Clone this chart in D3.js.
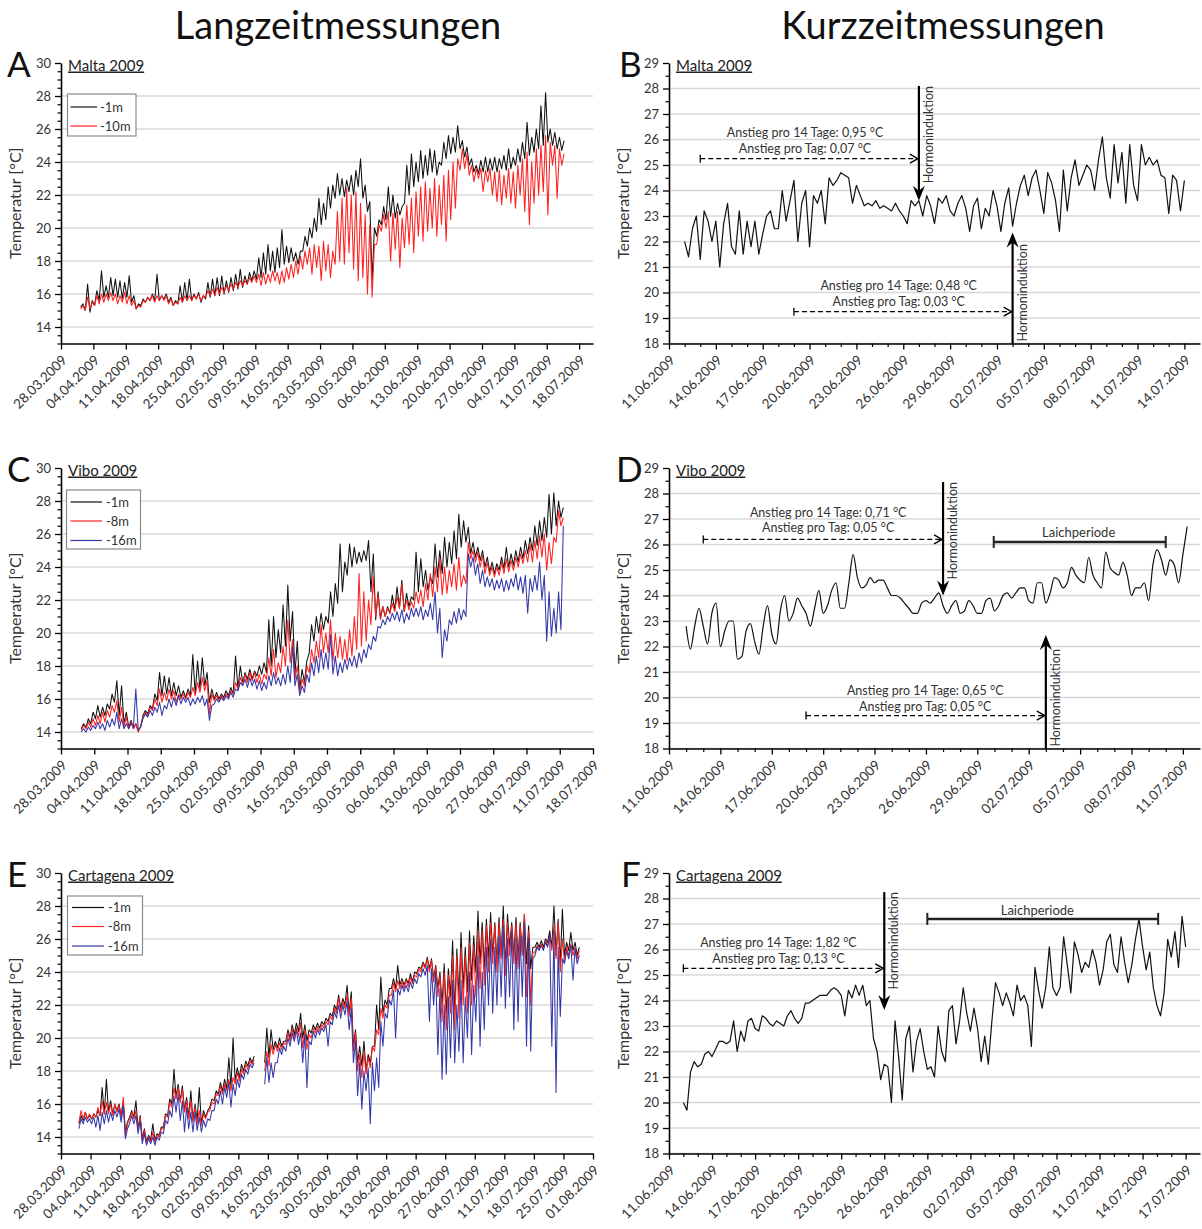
<!DOCTYPE html>
<html>
<head>
<meta charset="utf-8">
<script src="https://cdn.jsdelivr.net/npm/d3@7"></script>
<style>
  body { margin: 0; background: #fff; }
  svg { display: block; }
  text { font-family: Lato, "Open Sans", "DejaVu Sans", sans-serif; }
</style>
</head>
<body>
<svg id="chart" width="1202" height="1229"></svg>
<script>
// ---------------------------------------------------------------------------
// Long-term loggers: two readings per day (night low, afternoon high),
// starting 01.04.2009, 12-hour step. null = logger gap.
// ---------------------------------------------------------------------------
const maltaLong1m = [
  15.2,15.4, 15.0,16.6, 14.9,15.6, 15.3,16.2, 15.6,17.4, 15.8,16.5, 15.8,17.0, 15.9,16.9, 15.8,16.8, 15.7,16.7,
  15.8,17.1, 15.5,15.9, 15.1,15.4, 15.3,15.7, 15.5,15.8, 15.6,16.0, 15.6,17.2, 15.6,15.9, 15.7,16.0, 15.5,15.8,
  15.3,15.6, 15.4,16.5, 15.5,16.7, 15.6,16.9, 15.6,16.0, 15.7,16.1, 15.5,15.9, 15.7,16.7, 15.8,16.9, 15.9,17.0,
  15.9,17.1, 16.0,16.8, 16.1,17.0, 16.2,17.2, 16.3,17.5, 16.4,17.1, 16.6,17.3, 16.8,17.4, 16.9,18.2, 17.0,18.5,
  17.2,19.0, 17.4,18.6, 17.3,18.8, 17.6,19.9, 17.8,18.9, 17.9,18.8, 18.0,18.5, 17.8,18.6, 18.6,19.5, 18.9,20.0,
  19.4,20.6, 19.8,21.8, 20.2,21.5, 20.5,22.5, 21.2,22.6, 21.8,23.3, 22.0,23.0, 21.9,22.9, 22.2,23.2, 22.0,23.5,
  22.5,24.2,
  21.8,22.6, 21.0,21.6, 16.8,20.0, 19.5,20.5, 20.2,21.3, 20.5,22.5, 20.7,22.0, 20.6,21.5, 20.8,21.3, 21.5,23.8,
  22.0,24.5, 22.5,24.0, 22.8,24.7, 23.0,24.4, 23.2,24.8, 23.4,24.7, 23.2,24.0, 23.8,25.2, 24.2,25.6, 24.5,25.5,
  24.6,26.2, 24.8,25.3, 24.3,24.9, 23.8,24.2, 23.4,23.8, 23.3,24.1, 23.4,24.3, 23.4,24.2, 23.5,24.3, 23.4,24.2,
  23.6,24.4, 23.5,24.8, 23.6,24.3, 23.8,24.8, 24.0,25.2, 24.2,26.4, 24.4,25.5, 24.6,26.0, 24.8,27.4, 25.0,28.2,
  25.2,26.0, 25.0,25.8, 24.8,25.5, 24.7,25.3
];
const maltaLong10m = [
  15.1,15.3, 15.0,15.8, 15.1,15.5, 15.3,15.9, 15.4,16.0, 15.5,16.0, 15.6,16.1, 15.6,16.0, 15.4,15.9, 15.5,16.1,
  15.4,15.9, 15.3,15.6, 15.1,15.3, 15.2,15.6, 15.5,15.8, 15.6,15.9, 15.5,15.9, 15.6,15.9, 15.6,15.9, 15.4,15.7,
  15.3,15.5, 15.4,15.8, 15.5,15.9, 15.6,15.9, 15.6,15.9, 15.7,16.0, 15.6,15.9, 15.8,16.2, 15.9,16.3, 15.9,16.4,
  16.0,16.4, 16.1,16.5, 16.2,16.6, 16.3,16.7, 16.4,16.8, 16.5,16.8, 16.6,17.0, 16.7,17.1, 16.7,17.2, 16.5,17.3,
  16.6,17.2, 16.7,17.4, 16.8,17.3, 16.6,17.4, 16.7,17.6, 16.9,17.8, 17.0,18.0, 17.2,18.3, 17.5,18.6, 17.8,18.8,
  17.2,19.0, 17.6,18.9, 16.8,19.2, 17.4,19.0, 17.0,18.6, 17.8,21.0, 18.0,21.8, 17.8,22.4, 18.5,22.0, 17.5,22.2,
  16.8,21.5,
  17.0,20.8, 16.0,20.2, 15.8,19.0, 19.0,20.2, 19.8,20.8, 20.0,21.0, 18.0,20.9, 18.7,21.0, 17.6,20.6, 18.8,21.4,
  19.0,21.8, 18.5,22.2, 19.5,22.5, 19.2,22.8, 19.8,22.4, 20.0,23.0, 19.5,22.6, 20.2,23.2, 19.2,23.5, 20.5,24.0,
  21.2,24.2, 23.5,24.8, 23.6,24.5, 23.2,23.8, 22.8,23.6, 23.0,23.6, 22.2,23.5, 22.8,23.6, 22.0,23.4, 21.6,23.5,
  21.4,23.2, 21.8,23.6, 21.5,23.4, 21.2,23.8, 22.0,24.2, 21.0,24.6, 20.2,24.0, 21.5,24.8, 22.0,25.0, 22.2,25.6,
  20.8,25.2, 23.8,25.0, 21.8,24.8, 23.8,24.5
];

const viboLong1m = [
  14.2,14.5, 14.3,14.8, 14.5,15.2, 14.8,15.6, 14.9,15.5, 15.0,15.7, 15.4,16.3, 15.8,17.1, 15.0,16.8, 14.5,15.2,
  14.3,14.7, 14.2,14.5, 14.1,14.3, 15.0,15.3, 15.1,15.6, 15.4,16.3, 15.9,17.6, 16.2,17.4, 16.3,17.3, 16.2,17.0,
  16.2,16.8, 16.1,16.5, 16.1,16.6, 16.2,18.7, 16.3,18.3, 16.6,18.5, 16.8,17.6, 15.8,16.6, 16.0,16.4, 16.0,16.3,
  16.1,16.5, 16.2,16.7, 16.3,18.6, 16.6,18.0, 17.0,17.6, 17.2,17.8, 17.2,17.7, 17.4,18.0, 17.5,18.2, 17.6,20.8,
  18.0,21.0, 18.5,20.2, 18.8,21.7, 19.2,22.9, 19.5,21.3, 17.5,19.5, 16.5,17.8, 17.0,18.3, 18.8,20.5, 19.5,21.0,
  20.0,21.2, 20.2,21.0, 20.6,22.5, 21.0,23.0, 21.8,25.4, 22.5,24.3, 23.5,25.4, 24.0,25.2, 24.2,24.9, 24.3,25.0,
  24.4,25.6,
  22.5,24.8, 20.8,22.5, 20.9,21.6, 21.0,21.6, 21.2,22.3, 21.4,22.8, 21.5,23.2, 21.3,22.4, 21.6,22.2, 22.0,24.9,
  22.5,24.5, 22.8,23.8, 22.6,23.4, 23.0,25.4, 23.4,25.0, 23.6,25.8, 24.0,25.5, 24.2,26.2, 24.5,27.2, 25.2,26.8,
  25.5,26.4, 24.8,25.5, 24.6,25.2, 24.4,25.0, 24.0,24.6, 23.7,24.3, 23.6,24.2, 23.8,24.6, 23.9,25.2, 24.0,24.8,
  24.1,25.0, 24.3,25.2, 24.5,25.6, 24.8,25.8, 25.0,26.5, 25.3,26.8, 25.6,27.0, 25.8,28.4, 26.0,28.5, 26.5,28.0,
  27.0,27.6
];
const viboLong8m = [
  14.1,14.4, 14.2,14.6, 14.3,14.8, 14.4,15.0, 14.5,15.2, 14.6,15.3, 14.9,15.6, 15.2,15.9, 14.6,15.5, 14.3,14.9,
  14.2,14.6, 14.2,14.5, 14.0,14.3, 14.9,15.2, 15.0,15.5, 15.3,16.0, 15.6,16.6, 15.8,16.4, 15.9,16.6, 16.0,16.5,
  15.8,16.3, 16.0,16.3, 16.0,16.4, 16.1,16.7, 16.2,17.0, 16.4,17.3, 16.5,17.1, 15.1,16.3, 15.9,16.2, 15.9,16.2,
  16.0,16.3, 16.1,16.5, 16.3,17.0, 16.6,17.3, 16.9,17.5, 17.0,17.6, 17.1,17.6, 17.0,17.5, 16.9,17.5, 17.2,18.5,
  17.4,19.0, 17.3,18.2, 17.6,19.2, 18.0,20.8, 18.2,19.6, 17.2,18.0, 16.4,17.2, 16.8,18.0, 17.6,19.0, 18.2,19.5,
  18.5,20.5, 18.8,20.0, 18.8,20.8, 18.3,20.0, 18.5,19.8, 18.4,19.6, 18.3,20.2, 18.6,21.0, 19.0,23.6, 19.2,22.5,
  19.5,22.0,
  20.5,23.4, 21.0,22.3, 20.8,21.6, 21.0,21.5, 21.2,21.8, 21.3,22.2, 21.5,23.0, 21.3,22.0, 21.4,21.9, 21.5,22.5,
  21.8,22.6, 21.6,23.0, 22.0,23.6, 22.2,24.0, 22.5,24.5, 22.3,24.0, 22.4,23.8, 22.8,24.2, 22.6,24.6, 22.8,23.5,
  23.0,25.5, 24.5,25.0, 24.3,24.9, 24.0,24.7, 23.6,24.3, 23.5,24.0, 23.4,24.0, 23.5,24.3, 23.6,24.5, 23.7,24.4,
  23.8,24.6, 24.0,24.8, 24.2,25.0, 24.3,25.4, 24.3,25.6, 24.5,25.9, 24.6,26.0, 23.8,25.5, 24.2,25.8, 25.5,27.4,
  26.5,27.0
];
const viboLong16m = [
  14.0,14.2, 14.0,14.3, 14.1,14.4, 14.2,14.6, 14.2,14.5, 14.1,14.7, 14.3,14.8, 14.4,15.2, 14.2,14.8, 14.2,14.5,
  14.2,14.5, 14.3,16.6, 14.1,14.3, 14.8,15.1, 14.9,15.3, 15.0,15.5, 15.2,15.8, 15.0,15.6, 15.4,16.0, 15.5,16.1,
  15.6,16.2, 15.7,16.1, 15.8,16.1, 15.6,16.0, 15.7,16.1, 15.8,16.2, 15.6,16.0, 14.7,15.6, 15.7,16.0, 15.8,16.1,
  15.9,16.2, 16.0,16.4, 16.1,16.6, 16.5,17.0, 16.8,17.2, 16.7,17.3, 16.8,17.2, 16.6,17.1, 16.5,17.0, 16.6,17.4,
  16.8,17.6, 16.9,17.3, 16.8,17.5, 16.9,18.0, 17.0,19.2, 16.8,17.5, 16.2,16.8, 16.4,17.5, 17.0,18.2, 17.4,18.6,
  17.6,19.0, 17.8,18.8, 17.8,19.9, 17.5,18.6, 17.4,18.2, 17.6,18.4, 17.8,18.5, 18.0,18.6, 17.9,18.8, 18.2,19.0,
  18.5,19.3,
  19.0,19.8, 19.5,20.4, 20.3,20.8, 20.5,21.0, 20.7,21.2, 20.8,21.3, 20.7,21.4, 20.6,21.2, 20.8,21.5, 21.0,21.5,
  21.0,21.6, 20.8,21.4, 21.0,21.8, 20.8,22.5, 20.0,21.5, 18.5,20.2, 19.5,20.8, 20.5,21.3, 20.6,21.5, 20.8,21.4,
  21.0,24.8, 24.0,24.6, 23.5,24.2, 23.0,23.8, 22.8,23.4, 22.8,23.3, 22.6,23.2, 22.7,23.3, 22.5,23.2, 22.6,23.3,
  22.8,23.6, 22.6,23.4, 22.4,23.5, 21.2,23.3, 22.5,23.5, 22.6,24.3, 22.0,23.5, 19.5,22.5, 19.8,21.5, 20.0,22.5,
  20.2,26.5
];

const cartagenaLong1m = [
  14.8,15.3, 15.0,15.5, 15.1,15.3, 15.1,15.4, 15.2,15.6, 15.3,17.0, 15.4,17.5, 15.5,16.2, 15.4,16.0, 15.6,16.0,
  15.3,16.1, 14.3,14.9, 15.2,15.6, 15.2,16.2, 14.5,15.3, 13.9,14.5, 13.7,14.1, 13.8,14.8, 13.8,14.2, 14.1,14.6,
  14.6,15.4, 15.3,16.3, 16.0,18.1, 16.4,17.2, 16.2,17.1, 15.6,16.4, 15.2,16.8, 15.0,16.0, 15.0,17.0, 14.8,15.6,
  15.2,15.6, 15.8,16.3, 16.2,16.8, 16.6,17.3, 16.8,17.5, 16.9,18.8, 17.0,20.0, 17.4,18.2, 17.6,18.4, 18.0,18.6,
  18.3,18.8, 18.5,18.9, null,null, null,null, 18.5,20.6, 18.8,20.5, 19.3,19.8, 19.4,20.0, 19.5,19.8, 19.8,20.5,
  20.0,20.8, 20.2,20.9, 20.4,21.5, 20.0,20.8, 19.8,20.5, 20.3,20.8, 20.5,20.9, 20.6,21.0, 20.8,21.2, 21.0,21.5,
  21.3,22.0,
  21.7,22.6, 21.8,22.4, 22.0,23.2, 21.5,22.8, 19.5,20.5, 18.5,19.5, 18.3,19.8, 18.0,19.0, 18.5,19.5, 19.5,22.0,
  20.5,23.7, 21.5,22.3, 22.0,23.0, 23.0,23.6, 23.0,24.4, 23.2,23.6, 23.2,23.6, 23.3,23.9, 23.4,24.0, 23.9,24.3,
  24.2,24.6, 24.3,24.9, 24.2,24.8, 23.6,24.4, 23.0,24.0, 22.0,24.5, 21.5,24.2, 22.5,25.9, 21.5,25.4, 22.5,26.4,
  23.0,25.5, 22.8,26.5, 23.5,26.2, 24.0,27.7, 24.5,27.0, 24.2,27.2, 24.8,27.6, 25.0,27.0, 24.5,27.3, 25.0,28.0,
  24.2,27.5, 25.5,27.0, 25.0,27.3, 24.8,27.0, 25.2,27.5, 24.5,26.8, 24.2,25.5, 25.5,25.8, 25.5,25.9, 25.5,26.0,
  25.8,26.5, 25.5,28.0, 25.0,27.2, 24.5,27.8, 25.0,25.8, 25.3,26.4, 25.3,25.8, 25.0,25.5
];
const cartagenaLong8m = [
  14.9,15.6, 15.1,15.5, 15.1,15.4, 15.1,15.4, 15.2,15.8, 15.3,16.2, 15.4,16.1, 15.4,16.0, 15.3,16.0, 15.5,15.9,
  15.2,16.4, 14.1,14.8, 15.1,15.5, 15.1,15.6, 14.4,15.2, 13.8,14.4, 13.6,14.0, 13.7,14.3, 13.7,14.1, 14.0,14.5,
  14.5,15.3, 15.2,16.1, 15.8,17.0, 16.3,17.0, 16.1,16.9, 15.5,16.2, 15.1,16.2, 14.9,15.8, 14.8,15.6, 14.7,15.4,
  15.1,15.5, 15.6,16.1, 16.0,16.6, 16.5,17.1, 16.6,17.2, 16.8,17.5, 16.8,17.6, 17.2,17.9, 17.4,18.1, 17.8,18.4,
  18.1,18.6, 18.4,18.7, null,null, null,null, 18.0,19.2, 18.3,19.6, 19.0,19.6, 19.2,19.7, 19.3,19.7, 19.6,20.3,
  19.8,20.6, 19.9,20.6, 20.1,20.9, 19.4,20.5, 19.3,20.2, 20.0,20.6, 20.3,20.7, 20.4,20.8, 20.6,21.0, 20.8,21.3,
  21.1,21.8,
  21.5,22.4, 21.6,22.2, 21.8,22.6, 21.3,22.4, 19.2,20.3, 18.0,19.0, 17.6,19.2, 17.8,18.8, 18.2,19.5, 19.2,20.5,
  20.2,21.8, 21.2,22.0, 21.8,22.6, 22.6,23.3, 22.8,23.5, 23.0,23.4, 23.0,23.5, 23.1,23.7, 23.3,23.8, 23.7,24.2,
  24.0,24.5, 24.2,24.8, 24.0,24.7, 23.4,24.3, 22.5,23.8, 21.0,24.0, 20.5,23.8, 21.5,25.0, 20.5,25.0, 21.2,25.5,
  22.0,25.0, 21.5,25.8, 22.0,25.6, 22.5,26.5, 23.0,26.5, 23.2,26.8, 24.0,27.0, 24.5,26.8, 24.0,27.0, 24.8,27.2,
  23.8,27.0, 25.0,26.8, 24.5,27.0, 24.2,26.8, 25.0,27.5, 22.5,26.5, 22.0,25.2, 25.2,25.6, 25.4,25.7, 25.4,25.9,
  25.6,26.2, 25.3,26.8, 24.8,27.0, 24.0,26.0, 24.6,25.5, 25.0,25.7, 25.0,25.5, 24.8,25.3
];
const cartagenaLong16m = [
  14.5,15.1, 14.8,15.2, 14.9,15.1, 14.8,15.2, 14.6,15.3, 14.4,15.5, 14.8,15.6, 14.9,15.5, 15.0,15.6, 15.2,15.7,
  14.9,15.9, 13.9,14.5, 14.8,15.3, 14.8,15.3, 14.2,15.0, 13.6,14.2, 13.5,13.9, 13.6,14.0, 13.5,14.0, 13.8,14.3,
  14.2,15.0, 14.8,15.6, 15.2,16.5, 15.5,16.6, 15.0,16.2, 14.3,15.8, 14.5,15.5, 14.3,15.5, 14.4,15.2, 14.3,15.0,
  14.6,15.1, 15.0,15.6, 15.6,16.3, 16.0,16.8, 16.0,17.0, 16.4,17.3, 15.8,17.2, 16.5,17.5, 17.0,17.8, 17.5,18.1,
  17.8,18.4, 18.2,18.5, null,null, null,null, 17.2,18.8, 17.3,18.5, 17.6,18.5, 18.5,19.4, 19.0,19.5, 19.2,20.0,
  19.5,20.3, 19.8,20.5, 19.6,20.3, 18.5,20.2, 17.0,19.8, 19.6,20.4, 20.0,20.5, 20.2,20.6, 20.4,20.8, 19.5,21.0,
  20.8,21.6,
  21.2,22.0, 21.2,22.0, 21.4,22.2, 20.5,21.8, 18.5,19.8, 16.5,18.5, 15.7,18.0, 16.8,18.2, 14.8,18.5, 16.8,18.8,
  17.0,21.0, 19.5,21.5, 21.2,22.3, 22.0,22.9, 20.0,23.0, 22.6,23.2, 22.8,23.2, 22.8,23.4, 23.0,23.6, 23.3,23.9,
  23.7,24.2, 23.8,24.4, 21.0,24.2, 22.0,24.0, 19.0,23.0, 17.5,22.0, 17.8,22.5, 18.8,23.5, 18.5,22.0, 19.2,23.5,
  18.5,22.5, 20.0,24.0, 19.0,23.2, 21.0,25.0, 19.5,24.0, 20.5,25.5, 22.0,26.0, 21.5,25.5, 22.0,26.2, 22.5,26.8,
  21.8,26.0, 22.5,26.5, 20.5,26.0, 21.0,26.2, 22.5,27.0, 19.5,26.0, 19.2,24.8, 25.0,25.5, 25.3,25.6, 25.3,25.8,
  25.5,26.2, 19.5,26.5, 16.7,25.5, 21.3,24.8, 24.5,25.3, 24.8,25.6, 23.5,25.4, 24.5,25.0
];

// ---------------------------------------------------------------------------
// Short-term records (-1m), 6-hour step starting 12.06.2009 00:00
// ---------------------------------------------------------------------------
const maltaShort = [
  22.0,21.4,22.5,23.0,21.3,23.2,22.8,22.0,22.8,21.0,22.7,23.5,21.8,21.5,23.2,21.5,22.8,21.8,22.8,21.5,
  22.3,23.0,23.2,22.5,22.5,24.0,22.8,23.6,24.4,22.0,23.5,24.0,21.8,23.8,23.5,24.0,22.7,24.5,24.2,24.4,
  24.7,24.6,24.5,23.5,24.2,23.8,23.4,23.5,23.4,23.6,23.3,23.4,23.3,23.2,23.5,23.2,23.0,22.7,23.6,23.4,
  23.6,23.0,23.8,23.4,22.7,23.7,23.5,23.8,23.2,23.0,23.5,23.8,23.3,22.4,23.4,23.7,22.5,23.3,23.0,24.0,
  23.4,22.4,23.5,24.1,22.6,23.5,24.2,24.6,23.8,24.5,24.8,24.0,23.1,24.7,24.3,23.6,22.4,24.8,23.2,24.5,
  25.2,24.2,24.6,25.0,24.8,24.0,25.2,26.1,24.5,23.7,25.8,24.3,25.5,23.5,25.8,24.2,23.6,25.8,25.0,25.3,
  25.0,25.2,24.6,24.5,23.1,24.6,24.4,23.2,24.4
];
const viboShort = [
  22.8,21.9,22.8,23.5,22.8,22.1,23.3,23.7,22.0,22.6,23.0,23.0,21.5,21.6,22.6,22.9,22.2,21.7,22.8,23.6,
  22.5,22.1,23.4,24.0,23.0,23.3,23.9,23.6,23.3,22.8,23.5,24.2,23.3,23.6,24.2,24.5,23.5,23.5,24.5,25.6,
  24.7,24.3,24.4,24.7,24.5,24.6,24.6,24.3,24.0,24.0,23.9,23.7,23.5,23.3,23.3,23.7,23.8,23.7,23.9,24.1,
  23.6,23.3,23.6,23.8,23.3,23.4,23.8,23.6,23.3,23.3,23.8,23.9,23.4,23.6,24.0,24.1,23.9,24.1,24.3,24.3,
  23.8,23.7,24.5,24.5,23.7,24.1,24.7,24.6,24.3,24.5,25.1,24.8,24.6,24.5,25.5,24.8,24.5,24.3,25.7,25.1,
  24.9,24.8,25.3,24.8,24.0,24.3,24.3,24.5,23.8,25.2,25.8,25.4,24.8,25.4,25.2,24.5,25.6,26.7
];
const cartagenaShort = [
  20.0,19.7,21.2,21.6,21.4,21.5,21.9,22.0,21.8,22.1,22.4,22.4,22.3,22.4,23.2,22.0,22.8,22.4,23.2,23.3,
  22.9,22.8,23.4,23.3,23.1,23.0,23.2,23.1,23.0,23.4,23.6,23.3,23.1,23.3,23.9,23.9,24.0,24.1,24.2,24.2,
  24.2,24.4,24.5,24.4,24.2,23.4,24.4,24.1,24.6,24.2,24.6,23.8,24.0,22.5,22.0,20.9,21.5,21.4,20.0,23.2,
  21.8,20.1,22.5,23.0,21.2,22.4,22.9,22.0,21.3,21.4,21.0,23.0,22.0,21.6,23.6,23.8,22.3,23.2,24.5,23.5,
  22.8,23.7,22.9,21.6,22.6,21.5,23.2,24.7,24.3,23.8,24.3,23.9,23.4,24.6,24.0,24.2,23.8,22.2,25.3,24.4,
  23.7,24.5,26.1,24.5,24.2,24.5,26.5,25.4,24.3,26.3,25.8,25.1,25.5,25.3,26.0,25.5,24.6,25.2,26.3,26.6,
  25.4,25.1,26.5,25.5,24.7,25.4,26.4,27.2,26.1,25.2,25.9,24.5,23.8,23.4,24.3,26.4,25.7,26.7,25.3,27.3,
  26.1
];

// Axis ticks
const longTempTicks = [14, 16, 18, 20, 22, 24, 26, 28, 30];
const shortTempTicks = [18, 19, 20, 21, 22, 23, 24, 25, 26, 27, 28, 29];

// ---------------------------------------------------------------------------
const T = (m, d, h = 0) => new Date(2009, m - 1, d, h);
const BLACK = '#111111', RED = '#ff2020', BLUE = '#3338a8';

// Annotations (dates and °C)
const maltaInduction = [
  { date: T(6, 27), from: 28.1, to: 23.6, label: 'Hormoninduktion' },
  { date: T(7, 3), from: 18, to: 22.35, label: 'Hormoninduktion' }
];
const maltaRise = [
  { from: T(6, 13), to: T(6, 27), at: 25.25, textDate: T(6, 19, 17), textAt: [26.1, 25.47],
    lines: ['Anstieg pro 14 Tage: 0,95 °C', 'Anstieg pro Tag: 0,07 °C'] },
  { from: T(6, 19), to: T(7, 3), at: 19.25, textDate: T(6, 25, 17), textAt: [20.1, 19.47],
    lines: ['Anstieg pro 14 Tage: 0,48 °C', 'Anstieg pro Tag: 0,03 °C'] }
];
const viboInduction = [
  { date: T(6, 27), from: 28.45, to: 24.0, label: 'Hormoninduktion' },
  { date: T(7, 3), from: 18, to: 22.45, label: 'Hormoninduktion' }
];
const viboRise = [
  { from: T(6, 13), to: T(6, 27), at: 26.2, textDate: T(6, 20, 7), textAt: [27.08, 26.49],
    lines: ['Anstieg pro 14 Tage: 0,71 °C', 'Anstieg pro Tag: 0,05 °C'] },
  { from: T(6, 19), to: T(7, 3), at: 19.29, textDate: T(6, 25, 23), textAt: [20.1, 19.47],
    lines: ['Anstieg pro 14 Tage: 0,65 °C', 'Anstieg pro Tag: 0,05 °C'] }
];
const viboSpawning = [{ from: T(6, 29, 23), to: T(7, 10), at: 26.1, textDate: T(7, 4, 22), textAt: 26.3, label: 'Laichperiode' }];
const cartagenaInduction = [{ date: T(6, 26), from: 28.25, to: 23.63, label: 'Hormoninduktion' }];
const cartagenaRise = [
  { from: T(6, 12), to: T(6, 26), at: 25.26, textDate: T(6, 18, 15), textAt: [26.1, 25.47],
    lines: ['Anstieg pro 14 Tage: 1,82 °C', 'Anstieg pro Tag: 0,13 °C'] }
];
const cartagenaSpawning = [{ from: T(6, 29), to: T(7, 15, 2), at: 27.2, textDate: T(7, 6, 16), textAt: 27.37, label: 'Laichperiode' }];

// ---------------------------------------------------------------------------
// Layout
// ---------------------------------------------------------------------------
const COLS = [{ x0: 61, x1: 593 }, { x0: 669, x1: 1200 }];
const ROW_TOP = [63, 468, 873];
const PLOT_H = 280.5;

const panels = [
  { letter: 'A', letterX: 7, site: 'Malta 2009', col: 0, row: 0, kind: 'long',
    xDomain: [T(3, 28), T(7, 21)], weeks: 16,
    series: [{ label: '-1m', color: BLACK, values: maltaLong1m }, { label: '-10m', color: RED, values: maltaLong10m }],
    legend: { x: 67.5, y: 94, w: 68.5, h: 42, lineX0: 70.5, lineX1: 97, textX: 100, rows: [107, 126] } },
  { letter: 'B', letterX: 619, site: 'Malta 2009', col: 1, row: 0, kind: 'short',
    xDomain: [T(6, 11), T(7, 15)], days: 33, series: [{ color: BLACK, values: maltaShort }],
    induction: maltaInduction, rise: maltaRise, spawning: [] },
  { letter: 'C', letterX: 7, site: 'Vibo 2009', col: 0, row: 1, kind: 'long',
    xDomain: [T(3, 28), T(7, 18)], weeks: 16,
    series: [{ label: '-1m', color: BLACK, values: viboLong1m }, { label: '-8m', color: RED, values: viboLong8m },
             { label: '-16m', color: BLUE, values: viboLong16m }],
    legend: { x: 66.5, y: 490, w: 74, h: 59, lineX0: 70.5, lineX1: 102, textX: 106, rows: [502, 521, 540.5] } },
  { letter: 'D', letterX: 616, site: 'Vibo 2009', col: 1, row: 1, kind: 'short', smooth: true,
    xDomain: [T(6, 11), T(7, 12)], days: 30, series: [{ color: BLACK, values: viboShort }],
    induction: viboInduction, rise: viboRise, spawning: viboSpawning },
  { letter: 'E', letterX: 7, site: 'Cartagena 2009', col: 0, row: 2, kind: 'long',
    xDomain: [T(3, 28), T(8, 1)], weeks: 18,
    series: [{ label: '-1m', color: BLACK, values: cartagenaLong1m }, { label: '-8m', color: RED, values: cartagenaLong8m },
             { label: '-16m', color: BLUE, values: cartagenaLong16m }],
    legend: { x: 67.5, y: 896, w: 75, h: 59, lineX0: 72, lineX1: 104, textX: 108, rows: [907.5, 926.5, 946] } },
  { letter: 'F', letterX: 621, site: 'Cartagena 2009', col: 1, row: 2, kind: 'short',
    xDomain: [T(6, 11), T(7, 18)], days: 36, series: [{ color: BLACK, values: cartagenaShort }],
    induction: cartagenaInduction, rise: cartagenaRise, spawning: cartagenaSpawning }
];

const svg = d3.select('#chart');
svg.append('rect').attr('width', 1202).attr('height', 1229).attr('fill', '#fff');

// Column headings
svg.append('text').attr('x', 338).attr('y', 39).attr('text-anchor', 'middle')
  .attr('font-size', 38).attr('fill', '#111').text('Langzeitmessungen');
svg.append('text').attr('x', 943).attr('y', 39).attr('text-anchor', 'middle')
  .attr('font-size', 38).attr('fill', '#111').text('Kurzzeitmessungen');

const fmtDate = d3.timeFormat('%d.%m.%Y');

function toPoints(start, stepHours, values) {
  return values.map((v, i) => ({ t: d3.timeHour.offset(start, i * stepHours), v }));
}

function styleAxis(g, fontSize) {
  g.attr('font-family', null).attr('font-size', null);
  g.select('.domain').attr('stroke', '#000').attr('stroke-width', 1.6);
  g.selectAll('.tick line').attr('stroke', '#000').attr('stroke-width', 1.3);
  g.selectAll('.tick text').attr('fill', '#333').attr('font-size', fontSize);
}

function solidArrow(g, x, yFrom, yTo) {
  const dir = yTo > yFrom ? 1 : -1;   // +1 pointing down
  const headLen = 15, headHalf = 6;
  g.append('line').attr('x1', x).attr('x2', x).attr('y1', yFrom).attr('y2', yTo - dir * 8)
    .attr('stroke', '#000').attr('stroke-width', 2.2);
  g.append('path')
    .attr('d', `M${x},${yTo} L${x - headHalf},${yTo - dir * headLen} L${x},${yTo - dir * 10} L${x + headHalf},${yTo - dir * headLen} Z`)
    .attr('fill', '#000');
}

function drawPanel(p) {
  const { x0, x1 } = COLS[p.col];
  const yTop = ROW_TOP[p.row];
  const yBottom = yTop + PLOT_H;
  const g = svg.append('g');
  const isLong = p.kind === 'long';

  const x = d3.scaleTime().domain(p.xDomain).range([x0, x1]);
  const y = d3.scaleLinear().domain(isLong ? [13, 30] : [18, 29]).range([yBottom, yTop]);
  const majors = isLong ? longTempTicks : shortTempTicks;
  const minors = d3.range(isLong ? 13 : 18, (isLong ? 30 : 29) + 0.01, 0.5).filter(v => !majors.includes(v));

  // horizontal grid
  g.append('g').selectAll('line').data(majors.filter(v => v !== y.domain()[1])).join('line')
    .attr('x1', x0).attr('x2', x1).attr('y1', d => y(d)).attr('y2', d => y(d))
    .attr('stroke', '#d8d8d8').attr('stroke-width', 1.4);

  // series
  const line = d3.line().defined(d => d.v != null).x(d => x(d.t)).y(d => y(d.v))
    .curve(p.smooth ? d3.curveMonotoneX : d3.curveLinear);
  p.series.forEach(s => {
    const pts = isLong ? toPoints(T(4, 1, 6), 12, s.values) : toPoints(T(6, 12), 6, s.values);
    g.append('path').datum(pts).attr('d', line)
      .attr('fill', 'none').attr('stroke', s.color).attr('stroke-width', isLong ? 1.05 : 1.2)
      .attr('stroke-linejoin', 'round');
  });

  // y axis
  const ya = g.append('g').attr('transform', `translate(${x0},0)`);
  ya.call(d3.axisLeft(y).tickValues(majors).tickSize(6).tickSizeOuter(0).tickPadding(4).tickFormat(d3.format('d')));
  styleAxis(ya, 13);
  const yMinor = ya.append('g').call(d3.axisLeft(y).tickValues(minors).tickSize(3.5).tickFormat(''));
  yMinor.select('.domain').remove();
  yMinor.selectAll('.tick line').attr('stroke', '#000').attr('stroke-width', 1.2);

  // x axis
  let xMajors, xMinors = [];
  if (isLong) {
    xMajors = d3.range(0, p.weeks + 1).map(i => d3.timeDay.offset(p.xDomain[0], 7 * i));
  } else {
    xMajors = d3.range(0, p.days + 1, 3).map(i => d3.timeDay.offset(p.xDomain[0], i));
    xMinors = d3.range(0, p.days + 2).filter(i => i % 3 !== 0)
      .map(i => d3.timeDay.offset(p.xDomain[0], i)).filter(d => d < p.xDomain[1]);
  }
  const xa = g.append('g').attr('transform', `translate(0,${yBottom})`);
  xa.call(d3.axisBottom(x).tickValues(xMajors).tickSize(6).tickSizeOuter(0).tickFormat(fmtDate));
  styleAxis(xa, 13.5);
  xa.selectAll('.tick text').attr('y', 0).attr('dy', '0.35em').attr('text-anchor', 'end')
    .attr('transform', 'translate(3,14) rotate(-45)');
  if (xMinors.length) {
    const xm = xa.append('g').call(d3.axisBottom(x).tickValues(xMinors).tickSize(3.5).tickFormat(''));
    xm.select('.domain').remove();
    xm.selectAll('.tick line').attr('stroke', '#000').attr('stroke-width', 1.2);
  }

  // y label
  svg.append('text').attr('transform', `translate(${x0 - 40},${(yTop + yBottom) / 2}) rotate(-90)`)
    .attr('text-anchor', 'middle').attr('font-size', 16).attr('fill', '#333').text('Temperatur [°C]');

  // panel letter and site title
  svg.append('text').attr('x', p.letterX).attr('y', yTop + 14).attr('font-size', 35).attr('fill', '#111').text(p.letter);
  svg.append('text').attr('x', x0 + 7).attr('y', yTop + 7.5).attr('font-size', 15)
    .attr('fill', '#222').attr('text-decoration', 'underline').text(p.site);

  // legend
  if (p.legend) {
    const L = p.legend;
    const lg = svg.append('g');
    lg.append('rect').attr('x', L.x).attr('y', L.y).attr('width', L.w).attr('height', L.h)
      .attr('fill', '#fff').attr('stroke', '#8a8a8a').attr('stroke-width', 1.2);
    p.series.forEach((s, i) => {
      lg.append('line').attr('x1', L.lineX0).attr('x2', L.lineX1).attr('y1', L.rows[i]).attr('y2', L.rows[i])
        .attr('stroke', s.color).attr('stroke-width', 1.2);
      lg.append('text').attr('x', L.textX).attr('y', L.rows[i]).attr('dy', '0.35em').attr('font-size', 13)
        .attr('fill', '#333').text(s.label);
    });
  }

  // annotations for short-term panels
  if (!isLong) {
    const ag = svg.append('g');
    (p.rise || []).forEach(r => {
      const xs = x(r.from), xe = x(r.to), yy = y(r.at);
      ag.append('line').attr('x1', xs).attr('x2', xe - 2).attr('y1', yy).attr('y2', yy)
        .attr('stroke', '#000').attr('stroke-width', 1.3).attr('stroke-dasharray', '5,3');
      ag.append('line').attr('x1', xs).attr('x2', xs).attr('y1', yy - 4).attr('y2', yy + 4)
        .attr('stroke', '#000').attr('stroke-width', 1.3);
      ag.append('path').attr('d', `M${xe - 9},${yy - 4.5} L${xe - 1},${yy} L${xe - 9},${yy + 4.5}`)
        .attr('fill', 'none').attr('stroke', '#000').attr('stroke-width', 1.4);
      r.lines.forEach((txt, i) => {
        ag.append('text').attr('x', x(r.textDate)).attr('y', y(r.textAt[i])).attr('text-anchor', 'middle')
          .attr('font-size', 12.5).attr('fill', '#333').text(txt);
      });
    });
    (p.induction || []).forEach(a => {
      const ax = x(a.date), yFrom = y(a.from), yTo = y(a.to);
      solidArrow(ag, ax, yFrom, yTo);
      const down = yTo > yFrom;
      ag.append('text')
        .attr('transform', `translate(${ax + 14},${down ? yFrom : yFrom - 2}) rotate(-90)`)
        .attr('text-anchor', down ? 'end' : 'start').attr('font-size', 12.5).attr('fill', '#333').text(a.label);
    });
    (p.spawning || []).forEach(s => {
      const xs = x(s.from), xe = x(s.to), yy = y(s.at);
      ag.append('line').attr('x1', xs).attr('x2', xe).attr('y1', yy).attr('y2', yy)
        .attr('stroke', '#222').attr('stroke-width', 2.5);
      [xs, xe].forEach(xx => ag.append('line').attr('x1', xx).attr('x2', xx).attr('y1', yy - 6).attr('y2', yy + 6)
        .attr('stroke', '#222').attr('stroke-width', 2));
      ag.append('text').attr('x', x(s.textDate)).attr('y', y(s.textAt)).attr('text-anchor', 'middle')
        .attr('font-size', 13).attr('fill', '#333').text(s.label);
    });
  }
}

panels.forEach(drawPanel);
</script>
</body>
</html>
